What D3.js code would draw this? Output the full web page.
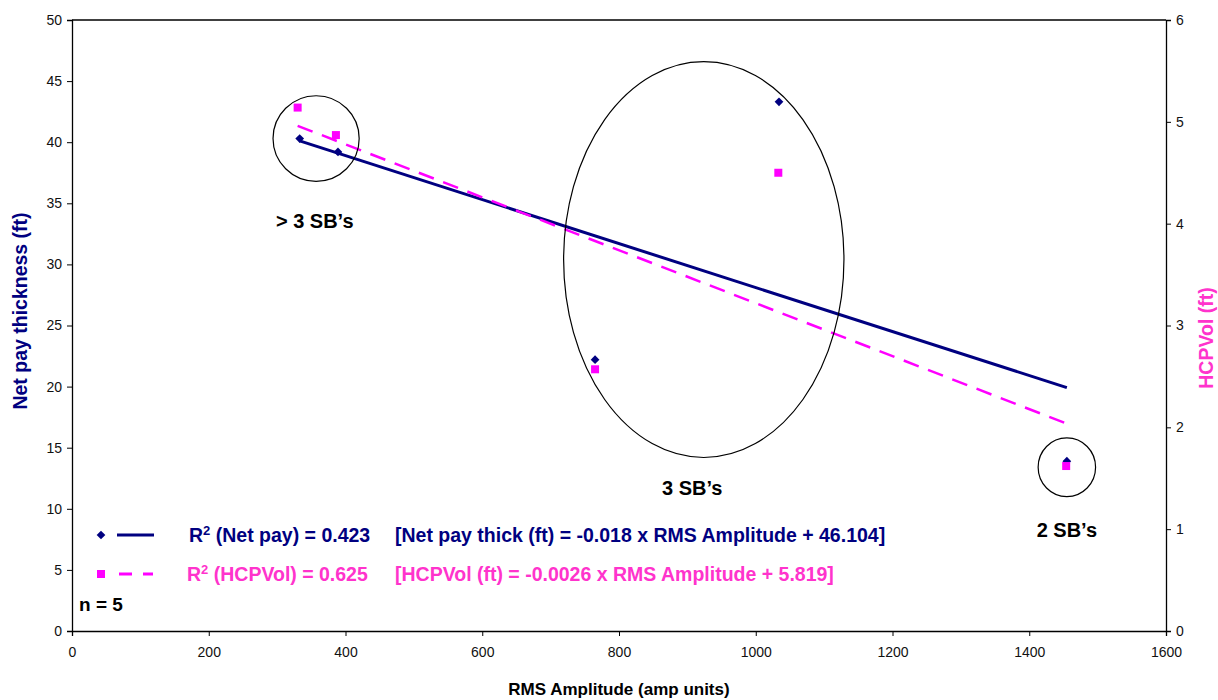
<!DOCTYPE html>
<html>
<head>
<meta charset="utf-8">
<script src="https://cdn.jsdelivr.net/npm/d3@7"></script>
<style>
  body { margin: 0; background: #fff; }
  text { font-family: "Liberation Sans", Arial, sans-serif; }
</style>
</head>
<body>
<script>
// data
var rms = [333, 389, 765, 1034, 1455];
var netPay = [40.3, 39.2, 22.2, 43.3, 13.9];
var rmsHcp = [330, 386, 765, 1033, 1454];
var hcpVol = [5.14, 4.87, 2.57, 4.50, 1.62];

// regression coefficients as printed in the legend [slope, intercept]
var netPayFit = [-0.018, 46.104];
var hcpFit = [-0.0026, 5.819];

var xTicks = [0, 200, 400, 600, 800, 1000, 1200, 1400, 1600];
var leftTicks = [0, 5, 10, 15, 20, 25, 30, 35, 40, 45, 50];
var rightTicks = [0, 1, 2, 3, 4, 5, 6];

// group annotations (in data units of RMS / net pay)
var groups = [
  { cx: 357, cy: 40.3, rx: 63, ry: 3.5, label: "> 3 SB\u2019s", lx: 355, ly: 33.0 },
  { cx: 924, cy: 30.4, rx: 205, ry: 16.2, label: "3 SB\u2019s", lx: 907, ly: 11.1 },
  { cx: 1455, cy: 13.4, rx: 42, ry: 2.4, label: "2 SB\u2019s", lx: 1455, ly: 7.7 }
];

var navy = "#000080", magenta = "#ff00ff", pink = "#ff33cc";

var margin = { top: 20, right: 52, bottom: 69, left: 72 },
    width = 1218, height = 700,
    w = width - margin.left - margin.right,
    h = height - margin.top - margin.bottom;

var svg = d3.select("body").append("svg")
    .attr("width", width)
    .attr("height", height);

var g = svg.append("g").attr("transform", "translate(" + margin.left + "," + margin.top + ")");

var x = d3.scaleLinear().domain([0, 1600]).range([0, w]);
var yL = d3.scaleLinear().domain([0, 50]).range([h, 0]);
var yR = d3.scaleLinear().domain([0, 6]).range([h, 0]);

// axes
var fmt = d3.format("d");
var xAxis = g.append("g").attr("transform", "translate(0," + h + ")")
    .call(d3.axisBottom(x).tickValues(xTicks).tickFormat(fmt).tickSize(5).tickPadding(11));
var lAxis = g.append("g")
    .call(d3.axisLeft(yL).tickValues(leftTicks).tickFormat(fmt).tickSize(5).tickPadding(5));
var rAxis = g.append("g").attr("transform", "translate(" + w + ",0)")
    .call(d3.axisRight(yR).tickValues(rightTicks).tickFormat(fmt).tickSize(5).tickPadding(5));

[xAxis, lAxis, rAxis].forEach(function(a) {
  a.selectAll("path").attr("stroke", "#000").attr("stroke-width", 1.3);
  a.selectAll("line").attr("stroke", "#000");
  a.selectAll("text").attr("font-size", 14).attr("fill", "#111")
    .attr("font-family", "Liberation Sans, Arial, sans-serif");
});

// top border
g.append("line").attr("x1", 0).attr("x2", w).attr("y1", 0).attr("y2", 0)
  .attr("stroke", "#000").attr("stroke-width", 1.3);

// trend lines
var xMin = d3.min(rms), xMax = d3.max(rms);
g.append("line")
  .attr("x1", x(xMin)).attr("y1", yL(netPayFit[0] * xMin + netPayFit[1]))
  .attr("x2", x(xMax)).attr("y2", yL(netPayFit[0] * xMax + netPayFit[1]))
  .attr("stroke", navy).attr("stroke-width", 3);
var hMin = d3.min(rmsHcp), hMax = d3.max(rmsHcp);
g.append("line")
  .attr("x1", x(hMin)).attr("y1", yR(hcpFit[0] * hMin + hcpFit[1]))
  .attr("x2", x(hMax)).attr("y2", yR(hcpFit[0] * hMax + hcpFit[1]))
  .attr("stroke", magenta).attr("stroke-width", 2.5)
  .attr("stroke-dasharray", "16,10");

// group ellipses + labels
g.selectAll(".grp").data(groups).enter().append("ellipse")
  .attr("cx", function(d) { return x(d.cx); })
  .attr("cy", function(d) { return yL(d.cy); })
  .attr("rx", function(d) { return x(d.rx) - x(0); })
  .attr("ry", function(d) { return yL(0) - yL(d.ry); })
  .attr("fill", "none").attr("stroke", "#000").attr("stroke-width", 1.2);
g.selectAll(".glab").data(groups).enter().append("text")
  .attr("x", function(d) { return x(d.lx); })
  .attr("y", function(d) { return yL(d.ly); })
  .attr("text-anchor", "middle")
  .attr("font-size", 20).attr("font-weight", "bold").attr("fill", "#000")
  .text(function(d) { return d.label; });

// markers
var diamond = d3.symbol().type(d3.symbolSquare).size(38);
g.selectAll(".np").data(rms).enter().append("path")
  .attr("d", diamond)
  .attr("transform", function(d, i) { return "translate(" + x(d) + "," + yL(netPay[i]) + ") rotate(45)"; })
  .attr("fill", navy);
g.selectAll(".hc").data(rmsHcp).enter().append("rect")
  .attr("x", function(d) { return x(d) - 4; })
  .attr("y", function(d, i) { return yR(hcpVol[i]) - 4; })
  .attr("width", 8).attr("height", 8)
  .attr("fill", magenta);

// legend
var leg = svg.append("g");
leg.append("path").attr("d", diamond).attr("transform", "translate(101,535) rotate(45)").attr("fill", navy);
leg.append("line").attr("x1", 117).attr("x2", 154).attr("y1", 535).attr("y2", 535)
  .attr("stroke", navy).attr("stroke-width", 3);
leg.append("rect").attr("x", 97).attr("y", 570).attr("width", 8).attr("height", 8).attr("fill", magenta);
leg.append("line").attr("x1", 119).attr("x2", 153).attr("y1", 574).attr("y2", 574)
  .attr("stroke", magenta).attr("stroke-width", 3).attr("stroke-dasharray", "13,11");

function legText(xp, yp, color, parts) {
  var t = leg.append("text").attr("x", xp).attr("y", yp)
    .attr("font-size", 19.5).attr("font-weight", "bold").attr("fill", color);
  parts.forEach(function(p) {
    var s = t.append("tspan").text(p[0]);
    if (p[1]) s.attr("font-size", 13).attr("dy", -7);
    if (p[2]) s.attr("dy", 7);
  });
}
legText(189, 542, navy, [["R"], ["2", true], [" (Net pay) = 0.423", false, true]]);
legText(395, 542, navy, [["[Net pay thick (ft) = -0.018 x RMS Amplitude + 46.104]"]]);
legText(187, 581, pink, [["R"], ["2", true], [" (HCPVol) = 0.625", false, true]]);
legText(395, 581, pink, [["[HCPVol (ft) = -0.0026 x RMS Amplitude + 5.819]"]]);
leg.append("text").attr("x", 101).attr("y", 611).attr("text-anchor", "middle")
  .attr("font-size", 19).attr("font-weight", "bold").attr("fill", "#000").text("n = 5");

// axis titles
svg.append("text").attr("x", 619).attr("y", 695).attr("text-anchor", "middle")
  .attr("font-size", 17).attr("font-weight", "bold").attr("fill", "#000")
  .text("RMS Amplitude (amp units)");
svg.append("text").attr("transform", "translate(27,311) rotate(-90)").attr("text-anchor", "middle")
  .attr("font-size", 19.5).attr("font-weight", "bold").attr("fill", navy)
  .text("Net  pay thickness (ft)");
svg.append("text").attr("transform", "translate(1213,338) rotate(-90)").attr("text-anchor", "middle")
  .attr("font-size", 19.5).attr("font-weight", "bold").attr("fill", pink)
  .text("HCPVol (ft)");
</script>
</body>
</html>
